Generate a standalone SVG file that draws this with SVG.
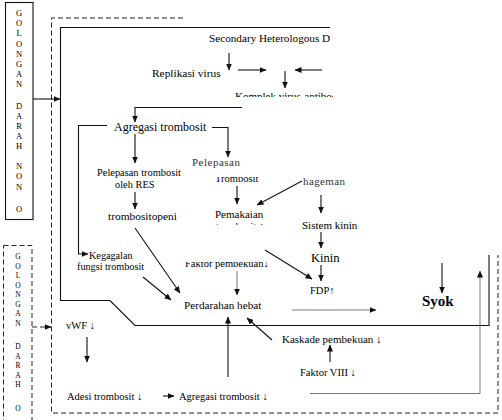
<svg xmlns="http://www.w3.org/2000/svg" width="502" height="420" viewBox="0 0 502 420">
<style>
text{font-family:"Liberation Serif","Times New Roman",serif;fill:#000;}
.t{font-size:11px;}
.s{font-size:10.5px;}
.l{font-size:8.5px;text-anchor:middle;}
.l2{font-size:7.5px;text-anchor:middle;}
.ln{stroke:#111;stroke-width:1.1;fill:none;}
.gr{stroke:#555;stroke-width:0.8;fill:none;}
.ds{stroke:#222;stroke-width:1;fill:none;stroke-dasharray:5,3;}
</style>
<defs>
<marker id="ah" markerWidth="7" markerHeight="6" refX="6.5" refY="3" orient="auto" markerUnits="userSpaceOnUse">
<path d="M0,0 L7,3 L0,6 Z" fill="#111"/>
</marker>
<clipPath id="cTop"><rect x="0" y="0" width="333" height="97"/></clipPath>
<clipPath id="cSec"><rect x="0" y="0" width="333" height="60"/></clipPath>
<clipPath id="cTromb"><rect x="200" y="177" width="80" height="20"/></clipPath>
<clipPath id="cPem"><rect x="200" y="215" width="90" height="10"/></clipPath>
<clipPath id="cFak"><rect x="180" y="262" width="100" height="10"/></clipPath>
</defs>
<rect width="502" height="420" fill="#fff"/>

<g id="golongan-non-o">
<rect x="5.5" y="2.5" width="27.5" height="217" fill="none" stroke="#111" stroke-width="1.1"/>
<text class="l"><tspan x="19" y="16">G</tspan><tspan x="19" y="26">O</tspan><tspan x="19" y="36">L</tspan><tspan x="19" y="47">O</tspan><tspan x="19" y="57">N</tspan><tspan x="19" y="67">G</tspan><tspan x="19" y="77">A</tspan><tspan x="19" y="87">N</tspan><tspan x="19" y="109">D</tspan><tspan x="19" y="119">A</tspan><tspan x="19" y="129">R</tspan><tspan x="19" y="139">A</tspan><tspan x="19" y="149">H</tspan><tspan x="19" y="169">N</tspan><tspan x="19" y="179">O</tspan><tspan x="19" y="190">N</tspan><tspan x="19" y="212">O</tspan></text>
</g>

<g id="golongan-o">
<rect x="3.5" y="245.5" width="28.5" height="185" fill="none" stroke="#222" stroke-width="1" stroke-dasharray="5,3"/>
<text class="l2"><tspan x="18" y="259">G</tspan><tspan x="18" y="268.5">O</tspan><tspan x="18" y="278">L</tspan><tspan x="18" y="287.5">O</tspan><tspan x="18" y="297">N</tspan><tspan x="18" y="306.5">G</tspan><tspan x="18" y="316">A</tspan><tspan x="18" y="325.5">N</tspan><tspan x="18" y="349">D</tspan><tspan x="18" y="358.5">A</tspan><tspan x="18" y="368">R</tspan><tspan x="18" y="377.5">A</tspan><tspan x="18" y="387">H</tspan><tspan x="18" y="411">O</tspan></text>
</g>

<g id="frames">
<path class="ds" d="M183,18 H51.5 V413 H498 V255"/>
<path class="ln" d="M330,27.5 H60.5 V300.5 H110 L135,325.5 H489 V255"/>
</g>

<g id="secondary"><text class="t" x="209" y="42" clip-path="url(#cSec)" style="font-size:11.2px">Secondary Heterologous D</text></g>
<g id="replikasi"><text class="t" x="152" y="77" style="font-size:11.4px">Replikasi virus</text></g>
<g id="komplek"><text class="t" x="235" y="100" clip-path="url(#cTop)">Komplek virus-antibodi</text></g>
<g id="agregasi-top"><text class="t" x="114" y="131" style="font-size:12px">Agregasi trombosit</text></g>
<g id="pelepasan-res"><text class="s" x="97" y="176" style="font-size:10.4px">Pelepasan trombosit</text><text class="s" x="115" y="188" style="font-size:10.4px">oleh RES</text></g>
<g id="trombositopeni"><text class="t" x="108" y="220" style="font-size:11.4px">trombositopeni</text></g>
<g id="pelepasan-trombosit"><text x="192" y="166" style="font-size:11px;letter-spacing:0.5px;fill:#333">Pelepasan</text><text class="s" x="215" y="182" clip-path="url(#cTromb)">Trombosit</text></g>
<g id="pemakaian"><text class="t" x="215" y="218">Pemakaian</text><text class="s" x="216" y="230" clip-path="url(#cPem)">trombosit ↑</text></g>
<g id="hageman"><text x="303" y="185" style="font-size:11px;letter-spacing:0.4px;fill:#333">hageman</text></g>
<g id="sistem-kinin"><text class="t" x="302" y="229">Sistem kinin</text></g>
<g id="kinin"><text class="t" x="311" y="262" style="font-size:12.5px">Kinin</text></g>
<g id="fdp"><text class="s" x="310" y="294">FDP↑</text></g>
<g id="kegagalan"><text class="s" x="89" y="259" style="font-size:10.2px">Kegagalan</text><text class="s" x="77" y="270" style="font-size:10.2px">fungsi  trombosit</text></g>
<g id="faktor-pembekuan"><text class="s" x="185" y="267" clip-path="url(#cFak)">Faktor  pembekuan↓</text></g>
<g id="perdarahan"><text class="t" x="184" y="309" style="font-size:11.2px">Perdarahan hebat</text></g>
<g id="syok"><text x="422" y="306" style="font-size:15px;font-weight:bold">Syok</text></g>
<g id="vwf"><text class="s" x="66" y="329">vWF ↓</text></g>
<g id="kaskade"><text class="t" x="282" y="343">Kaskade pembekuan ↓</text></g>
<g id="faktor-viii"><text class="s" x="300" y="376">Faktor VIII ↓</text></g>
<g id="adesi"><text class="s" x="67" y="400">Adesi trombosit ↓</text></g>
<g id="agregasi-bottom"><text class="s" x="179" y="400">Agregasi trombosit ↓</text></g>

<g id="connectors">
<line class="ln" x1="33" y1="99" x2="60" y2="99" marker-end="url(#ah)"/>
<line class="ds" x1="32" y1="327" x2="51" y2="327" marker-end="url(#ah)"/>
<line class="ln" x1="229" y1="53" x2="229" y2="70" marker-end="url(#ah)"/>
<line class="ln" x1="238" y1="70" x2="266" y2="70" marker-end="url(#ah)"/>
<line class="ln" x1="285" y1="71" x2="285" y2="88" marker-end="url(#ah)"/>
<line class="ln" x1="322" y1="70" x2="295" y2="70" marker-end="url(#ah)"/>
<path class="ln" d="M242,107.5 H135 V122" marker-end="url(#ah)"/>
<line class="ln" x1="135" y1="134" x2="135" y2="163" marker-end="url(#ah)"/>
<line class="ln" x1="135" y1="192" x2="135" y2="209" marker-end="url(#ah)"/>
<path class="ln" d="M107,125.5 H78.5 V254 H88" marker-end="url(#ah)"/>
<path class="ln" d="M212,127.5 H228 V157" marker-end="url(#ah)"/>
<line class="ln" x1="237" y1="186" x2="237" y2="204" marker-end="url(#ah)"/>
<line class="ln" x1="302" y1="181" x2="257" y2="205" marker-end="url(#ah)"/>
<line class="ln" x1="321" y1="195" x2="321" y2="213" marker-end="url(#ah)"/>
<line class="ln" x1="321" y1="232" x2="321" y2="248" marker-end="url(#ah)"/>
<line class="ln" x1="321" y1="265" x2="321" y2="281" marker-end="url(#ah)"/>
<line class="ln" x1="135" y1="228" x2="180" y2="293" marker-end="url(#ah)"/>
<line class="ln" x1="143" y1="277" x2="171" y2="300" marker-end="url(#ah)"/>
<line class="gr" x1="237" y1="271" x2="237" y2="295" marker-end="url(#ah)"/>
<line class="ln" x1="265" y1="250" x2="312" y2="279" marker-end="url(#ah)"/>
<line class="gr" x1="292" y1="310" x2="376" y2="310" marker-end="url(#ah)"/>
<line class="ln" x1="442" y1="263" x2="442" y2="293" marker-end="url(#ah)"/>
<line class="ln" x1="228" y1="377" x2="228" y2="317" marker-end="url(#ah)"/>
<line class="ln" x1="272" y1="340" x2="247" y2="318" marker-end="url(#ah)"/>
<line class="ln" x1="330" y1="362" x2="330" y2="345" stroke-width="1.6" marker-end="url(#ah)"/>
<line class="ln" x1="87" y1="337" x2="87" y2="362" stroke-width="1.4" marker-end="url(#ah)"/>
<line class="ln" x1="163" y1="396" x2="174" y2="396" marker-end="url(#ah)"/>
<path class="gr" d="M310,393.5 H480 V271" marker-end="url(#ah)"/>
</g>
</svg>
